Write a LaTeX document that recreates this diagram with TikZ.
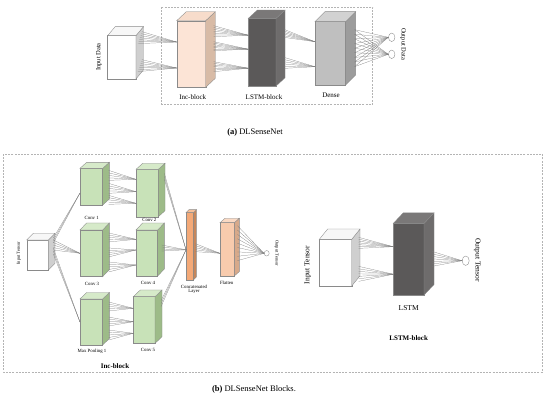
\documentclass[tikz,border=0pt]{standalone}
\usepackage{fontspec}
\setmainfont{Liberation Serif}
\usetikzlibrary{calc,shapes.geometric}
\definecolor{edgec}{HTML}{8A8A8A}
\definecolor{fanc}{HTML}{7A7A7A}
\definecolor{dashc}{HTML}{B4B4B4}
\definecolor{wF}{HTML}{FFFFFF}\definecolor{wS}{HTML}{CFCFCF}\definecolor{wT}{HTML}{F7F7F7}
\definecolor{pF}{HTML}{FCE4D6}\definecolor{pS}{HTML}{D8BBA6}\definecolor{pT}{HTML}{F7DCCB}
\definecolor{dF}{HTML}{5B5959}\definecolor{dS}{HTML}{6E6C6C}\definecolor{dT}{HTML}{7A7878}
\definecolor{gF}{HTML}{BFBFBF}\definecolor{gS}{HTML}{9C9C9C}\definecolor{gT}{HTML}{D2D2D2}
\definecolor{cF}{HTML}{C8E2B8}\definecolor{cS}{HTML}{9DBB88}\definecolor{cT}{HTML}{D6EAC9}
\definecolor{oF}{HTML}{F4A977}\definecolor{oS}{HTML}{C6865A}\definecolor{oT}{HTML}{F6BF98}
\definecolor{fF}{HTML}{F8CBAD}\definecolor{fS}{HTML}{D7A98A}\definecolor{fT}{HTML}{FAD9C3}
\tikzset{
  face/.style={draw=edgec, line width=0.35pt},
  fan/.style={draw=fanc, line width=0.22pt},
  dbox/.style={draw=dashc, dash pattern=on 2pt off 1.2pt, line width=0.5pt},
  lab/.style={font=\fontsize{#1}{#1}\selectfont, inner sep=0pt},
  lab/.default=6,
  outc/.style={draw=edgec, fill=white, line width=0.35pt, ellipse, inner sep=0pt},
}
% \cube{name}{cx}{cy}{w}{h}{dx}{dy}{colour prefix}
\newcommand\cube[8]{%
  \node[face, fill=#8F, minimum width=#4pt, minimum height=#5pt, inner sep=0pt, outer sep=0pt] (#1) at (#2,#3) {};
  \path[face, fill=#8S] (#1.north east) -- ++(#6,#7) -- ++(0,#5) -- (#1.south east) -- cycle;
  \path[face, fill=#8T] (#1.north west) -- ++(#6,#7) -- ++(#4,0) -- (#1.north east) -- cycle;
}
% \fan{from}{to}{n}{target}
\newcommand\fan[4]{%
  \foreach \i in {0,...,#3}{\draw[fan] ($(#1)!\i/#3!(#2)$) -- (#4);}
}
\begin{document}
\begin{tikzpicture}[x=1pt,y=-1pt]
\useasboundingbox (0,0) rectangle (550,402);
% ---------------- (a) ----------------
\draw[dbox] (161.7,7) rectangle (372.7,104);
\cube{inA}{121.8}{57.3}{28.3}{43.3}{7.5}{-9}{w}
\cube{inc}{191.2}{54}{29}{66.6}{9.6}{-9}{p}
\cube{lstmA}{262.2}{52.2}{27.7}{67.7}{9}{-8.3}{d}
\cube{dense}{330.3}{53.3}{30.7}{63.3}{10}{-10}{g}
\node[outc, minimum width=6.5pt, minimum height=8.5pt] (o1) at (391.7,37.3) {};
\node[outc, minimum width=6.5pt, minimum height=8.5pt] (o2) at (391.7,54.3) {};
% fans
\fan{$(inA.north east)+(6,-4)$}{$(inA.north east)+(2,8)$}{6}{$(inc.west)+(0,-12)$}
\fan{$(inA.north east)+(6,24)$}{$(inA.north east)+(2,36)$}{6}{$(inc.west)+(0,14)$}
\fan{$(inc.north east)+(8,5)$}{$(inc.north east)+(8,16)$}{6}{$(lstmA.west)+(0,-17)$}
\fan{$(inc.north east)+(8,21)$}{$(inc.north east)+(8,30)$}{6}{$(lstmA.west)+(0,-3)$}
\fan{$(inc.north east)+(8,41)$}{$(inc.north east)+(8,51)$}{6}{$(lstmA.west)+(0,16)$}
\fan{$(lstmA.north east)+(8,11)$}{$(lstmA.north east)+(8,19)$}{5}{$(dense.west)+(0,-11.6)$}
\fan{$(lstmA.north east)+(8,39)$}{$(lstmA.north east)+(8,50)$}{5}{$(dense.west)+(0,13.4)$}
\fan{$(dense.north east)+(9,8)$}{$(dense.north east)+(9,45)$}{8}{o1.west}
\fan{$(dense.north east)+(9,8)$}{$(dense.north east)+(9,45)$}{8}{o2.west}
% labels
\node[lab=6.5, rotate=90] (tIA) at (99,57) {Input Data};
\node[lab=6.5, rotate=-90] (tOA) at (403,44) {Output Data};
\node[lab=7] (tinc) at (192.7,97) {Inc-block};
\node[lab=7] (tlstmA) at (264,97) {LSTM-block};
\node[lab=7] (tdense) at (331,95) {Dense};
\node[lab=8.5] (capA) at (255,132.7) {\textbf{(a)} DLSenseNet};
% ---------------- (b) ----------------
\draw[dbox] (3.3,154) rectangle (542.3,372);
\cube{inT}{37.5}{255}{21.6}{30}{6.7}{-6.7}{w}
\cube{c1}{91.3}{186.7}{22.7}{36.7}{6.7}{-6}{c}
\cube{c2}{147.2}{193}{22.3}{47.4}{6.7}{-6}{c}
\cube{c3}{91.3}{253.3}{22.7}{46.7}{6.7}{-7}{c}
\cube{c4}{146.8}{253}{21.7}{46}{6.7}{-7}{c}
\cube{mp}{91.3}{322}{22.7}{46}{6.7}{-6.5}{c}
\cube{c5}{144.2}{320}{21.7}{46.7}{7}{-6.7}{c}
\cube{cat}{189.7}{246.3}{7.3}{67.3}{3}{-3}{o}
\cube{flat}{227.2}{249.3}{14.3}{53.3}{5}{-4.4}{f}
\node[outc, minimum width=5pt, minimum height=5.5pt] (oT) at (266.7,253.3) {};
% fans inc-block
\fan{$(inT.north east)+(5,-2)$}{$(inT.north east)+(5,3)$}{2}{$(c1.south west)+(0,-12)$}
\fan{$(inT.north east)+(5,0)$}{$(inT.north east)+(5,10)$}{4}{c3.west}
\fan{$(inT.north east)+(5,8)$}{$(inT.north east)+(5,14)$}{2}{$(mp.west)+(0,0)$}
\fan{$(c1.north east)+(6,2)$}{$(c1.north east)+(6,12)$}{4}{$(c2.west)+(0,-13.7)$}
\fan{$(c1.north east)+(6,15)$}{$(c1.north east)+(6,25)$}{4}{$(c2.west)+(0,-1.3)$}
\fan{$(c1.north east)+(6,27)$}{$(c1.north east)+(6,36)$}{4}{$(c2.west)+(0,10.3)$}
\fan{$(c3.north east)+(6,3)$}{$(c3.north east)+(6,12)$}{4}{$(c4.west)+(0,-13.7)$}
\fan{$(c3.north east)+(6,18)$}{$(c3.north east)+(6,27)$}{4}{$(c4.west)+(0,-3)$}
\fan{$(c3.north east)+(6,32)$}{$(c3.north east)+(6,42)$}{4}{$(c4.west)+(0,12)$}
\fan{$(mp.north east)+(6,3)$}{$(mp.north east)+(6,12)$}{4}{$(c5.west)+(0,-11.7)$}
\fan{$(mp.north east)+(6,18)$}{$(mp.north east)+(6,27)$}{4}{$(c5.west)+(0,1.7)$}
\fan{$(mp.north east)+(6,31)$}{$(mp.north east)+(6,41)$}{4}{$(c5.west)+(0,13.3)$}
\fan{$(c2.north east)+(6,4)$}{$(c2.north east)+(6,10)$}{2}{$(cat.west)+(0,3.5)$}
\fan{$(c4.north east)+(4,15)$}{$(c4.north east)+(4,21)$}{3}{$(cat.west)+(0,3.5)$}
\fan{$(c5.north east)+(6,4)$}{$(c5.north east)+(6,10)$}{2}{$(cat.west)+(0,3.5)$}
\fan{$(cat.north east)+(2,31)$}{$(cat.north east)+(2,39)$}{4}{$(flat.west)+(0,4)$}
\fan{$(flat.north east)+(3,3)$}{$(flat.north east)+(3,38)$}{8}{oT.west}
% labels inc-block
\node[lab=4.5, rotate=90] (tIT) at (19,253.3) {Input Tensor};
\node[lab=4.8] (tc1) at (91.7,218.3) {Conv 1};
\node[lab=4.8] (tc2) at (149.3,220.3) {Conv 2};
\node[lab=4.8] (tc3) at (92,284) {Conv 3};
\node[lab=4.8] (tc4) at (148,282.7) {Conv 4};
\node[lab=4.8] (tmp) at (92,351.3) {Max Pooling 1};
\node[lab=4.8] (tc5) at (148,350) {Conv 5};
\node[lab=4.8, align=center] (tcat) at (194,289.3) {Concatenated\\[-0.3pt]Layer};
\node[lab=4.8] (tflat) at (226.7,283.3) {Flatten};
\node[lab=4.5, rotate=-90] (tOT) at (276.7,253) {Output Tensor};
\node[lab=7] (tincb) at (115,365.7) {\textbf{Inc-block}};
% LSTM block
\cube{inB}{335.5}{262.7}{32.4}{46.7}{8.3}{-10.3}{w}
\cube{lstmB}{408.7}{259.2}{30.7}{71.7}{10}{-10.6}{d}
\node[outc, minimum width=7pt, minimum height=9.5pt] (oB) at (465.7,260.7) {};
\fan{$(inB.north east)+(7,-2)$}{$(inB.north east)+(7,9)$}{6}{$(lstmB.west)+(0,-12.5)$}
\fan{$(inB.north east)+(7,27)$}{$(inB.north east)+(7,42)$}{6}{$(lstmB.west)+(0,15)$}
\fan{$(lstmB.north east)+(8,28)$}{$(lstmB.north east)+(8,43)$}{6}{oB.west}
\node[lab=7.5, rotate=90] (tIB) at (307.7,265) {Input Tensor};
\node[lab=7.5, rotate=-90] (tOB) at (477.3,260) {Output Tensor};
\node[lab=7.5] (tlstmB) at (408.7,308.3) {LSTM};
\node[lab=7] (tlstmblk) at (408.7,338.3) {\textbf{LSTM-block}};
\node[lab=8.5] (capB) at (254,389) {\textbf{(b)} DLSenseNet Blocks.};
\end{tikzpicture}
\end{document}
